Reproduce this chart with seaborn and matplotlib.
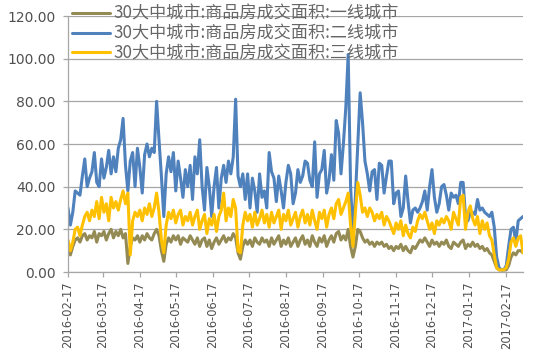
import numpy as np
import pandas as pd
import matplotlib
matplotlib.use("Agg")
import matplotlib.pyplot as plt
import seaborn as sns
from matplotlib.lines import Line2D

# ---------------- data (sampled every 2 days from 2016-02-17) ----------------
start_date = "2016-02-17"
step_days = 2

series_names = [
    "30大中城市:商品房成交面积:一线城市",
    "30大中城市:商品房成交面积:二线城市",
    "30大中城市:商品房成交面积:三线城市",
]

tier1 = [
    10, 8, 12, 15, 16,  14, 17, 18, 15, 17,  16, 19, 14, 18, 17,  19, 15, 18, 20, 16,
    19, 17, 20, 16, 18,  4, 12, 16, 15, 17,  14, 17, 15, 18, 16,  15, 18, 20, 17, 10,
    5, 13, 16, 14, 17,  15, 17, 13, 16, 15,  14, 17, 15, 13, 16,  12, 15, 16, 12, 15,
    11, 14, 16, 13, 15,  17, 14, 16, 15, 18,  16, 9, 6, 12, 15,  13, 15, 12, 16, 14,
    13, 16, 14, 15, 12,  16, 13, 15, 17, 12,  15, 13, 16, 12, 14,  16, 12, 15, 17, 13,
    15, 12, 17, 14, 12,  16, 14, 17, 12, 15,  17, 14, 18, 19, 15,  17, 15, 20, 12, 7,
    12, 20, 19, 16, 14,  15, 13, 14, 12, 14,  13, 14, 12, 13, 11,  12, 10, 12, 11, 13,
    10, 12, 10, 9, 12,  11, 13, 15, 14, 16,  14, 12, 15, 13, 14,  12, 14, 13, 15, 12,
    11, 14, 13, 12, 14,  15, 11, 13, 12, 14,  12, 13, 11, 12, 10,  11, 9, 8, 5, 2,
    1, 1, 1, 1, 3,  7, 9, 8, 10, 10, 9,
]

tier2 = [
    30, 22, 28, 38, 37,  36, 45, 53, 40, 44,  47, 56, 42, 40, 53,  44, 49, 57, 46, 54,
    47, 58, 62, 72, 50,  38, 52, 56, 40, 58,  49, 37, 55, 60, 54,  58, 56, 80, 62, 45,
    26, 46, 54, 47, 56,  38, 52, 44, 35, 48,  40, 50, 34, 54, 46,  62, 40, 29, 49, 40,
    26, 40, 49, 30, 44,  50, 42, 52, 46, 54,  81, 45, 40, 46, 34,  46, 30, 44, 38, 28,
    46, 35, 38, 30, 56,  47, 44, 33, 45, 38,  30, 42, 50, 46, 32,  37, 48, 42, 45, 52,
    51, 43, 40, 61, 35,  46, 48, 57, 37, 43,  55, 43, 71, 65, 46,  60, 77, 102, 40, 18,
    35, 60, 84, 70, 52,  46, 38, 47, 48, 34,  51, 50, 37, 45, 52,  52, 32, 37, 38, 26,
    30, 45, 33, 23, 29,  30, 28, 30, 33, 38,  29, 40, 48, 35, 28,  32, 40, 41, 36, 29,
    37, 35, 36, 32, 42,  42, 26, 24, 28, 28,  27, 34, 29, 30, 28,  27, 26, 28, 21, 7,
    2, 1, 1, 3, 12,  20, 21, 14, 24, 25, 26,
]

tier3 = [
    15, 10, 14, 20, 21,  17, 22, 26, 28, 24,  29, 26, 33, 25, 35,  28, 32, 24, 35, 30,
    33, 29, 34, 38, 32,  37, 8, 24, 28, 26,  29, 24, 30, 27, 32,  26, 30, 37, 28, 15,
    9, 22, 28, 25, 29,  23, 27, 29, 22, 26,  24, 28, 22, 26, 29,  20, 24, 27, 18, 25,
    22, 27, 19, 26, 29,  37, 24, 30, 26, 34,  30, 10, 9, 22, 28,  24, 27, 21, 28, 22,
    25, 29, 23, 27, 21,  28, 23, 26, 29, 20,  27, 24, 29, 22, 25,  28, 21, 26, 29, 23,
    27, 22, 29, 24, 20,  28, 25, 29, 21, 27,  30, 25, 32, 34, 27,  30, 33, 37, 22, 12,
    28, 42, 36, 28, 30,  26, 30, 28, 24, 27,  25, 28, 22, 26, 24,  21, 18, 23, 20, 24,
    17, 22, 18, 16, 21,  19, 24, 27, 25, 28,  24, 20, 23, 18, 24,  22, 25, 23, 26, 24,
    20, 28, 25, 22, 35,  36, 20, 28, 31, 25,  22, 26, 18, 24, 20,  23, 17, 15, 8, 2,
    1, 1, 1, 2, 6,  14, 16, 12, 16, 17, 9,
]

tick_labels = [
    "2016-02-17", "2016-03-17", "2016-04-17", "2016-05-17", "2016-06-17",
    "2016-07-17", "2016-08-17", "2016-09-17", "2016-10-17", "2016-11-17",
    "2016-12-17", "2017-01-17", "2017-02-17",
]
y_ticks = [0, 20, 40, 60, 80, 100, 120]

colors = ["#948A54", "#4F81BD", "#FFC000"]

# ---------------- figure ----------------
sns.set_style("white")
plt.rcParams["font.family"] = ["DejaVu Sans"]

dates = pd.date_range(start_date, periods=len(tier2), freq=f"{step_days}D")
df = pd.DataFrame({"date": dates, series_names[0]: tier1,
                   series_names[1]: tier2, series_names[2]: tier3})
long = df.melt(id_vars="date", var_name="series", value_name="value")

fig = plt.figure(figsize=(5.4, 3.55), dpi=100)
ax = fig.add_axes([68 / 540, 1 - 272 / 355, (523 - 68) / 540, (272 - 16) / 355])

sns.lineplot(data=long, x="date", y="value", hue="series",
             hue_order=series_names, palette=colors, linewidth=2.2,
             ax=ax, legend=False)

ax.set_xlim(dates[0], dates[-1])
ax.set_ylim(0, 120)
ax.set_yticks(y_ticks)
ax.set_yticklabels([f"{v:.2f}" for v in y_ticks])
ax.set_xticks(pd.to_datetime(tick_labels))
ax.set_xticklabels(tick_labels, rotation=90)
ax.set_xlabel("")
ax.set_ylabel("")

grid_c = "#A6A6A6"
ax.yaxis.grid(True, color=grid_c, linewidth=0.9)
ax.xaxis.grid(False)
ax.set_axisbelow(True)
for s in ["top", "right"]:
    ax.spines[s].set_visible(False)
for s in ["left", "bottom"]:
    ax.spines[s].set_color(grid_c)
    ax.spines[s].set_linewidth(0.9)

ax.tick_params(axis="y", length=3.6, width=0.9, color=grid_c, pad=5.5,
               labelsize=10, labelcolor="#505050", left=True)
ax.tick_params(axis="x", length=3.6, width=0.9, color=grid_c, pad=3.5,
               labelsize=8.3, labelcolor="#505050", bottom=True)

handles = [Line2D([0], [0], color=c, linewidth=2.2) for c in colors]
leg = ax.legend(handles, series_names, loc="upper left",
                bbox_to_anchor=(72 / 540, 1 - 5 / 355), bbox_transform=fig.transFigure,
                frameon=False, borderpad=0, borderaxespad=0,
                handlelength=2.25, handletextpad=0.18, labelspacing=0.1,
                prop={"family": ["Noto Sans CJK SC", "DejaVu Sans"], "size": 12.3},
                labelcolor="#666666")

fig.savefig("out.png", dpi=100)
